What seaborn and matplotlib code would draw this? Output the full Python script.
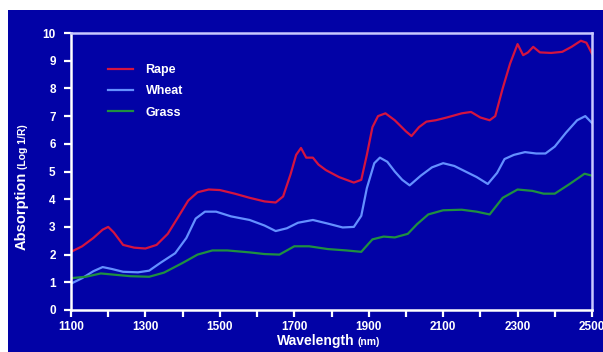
import matplotlib
matplotlib.use("Agg")
import matplotlib.pyplot as plt
import seaborn as sns
import pandas as pd
from matplotlib.patches import Rectangle

# ---- data ----
series_names = ["Rape", "Wheat", "Grass"]

rape_wl = [1100, 1130, 1160, 1185, 1200, 1215, 1240, 1270, 1300, 1330, 1360, 1390,
           1415, 1440, 1470, 1500, 1540, 1580, 1620, 1650, 1670, 1690, 1705, 1718,
           1732, 1750, 1765, 1785, 1820, 1860, 1880, 1895, 1910, 1925, 1945, 1970,
           2000, 2015, 2035, 2055, 2080, 2110, 2150, 2175, 2200, 2225, 2240, 2260,
           2280, 2300, 2315, 2328, 2342, 2360, 2390, 2420, 2445, 2470, 2485, 2500]
rape_abs = [2.1, 2.3, 2.6, 2.9, 3.0, 2.8, 2.35, 2.25, 2.22, 2.35, 2.75, 3.4,
            3.95, 4.25, 4.35, 4.33, 4.2, 4.05, 3.92, 3.88, 4.1, 4.9, 5.6, 5.85,
            5.5, 5.5, 5.25, 5.05, 4.8, 4.6, 4.7, 5.6, 6.6, 7.0, 7.1, 6.85,
            6.45, 6.28, 6.6, 6.8, 6.85, 6.95, 7.1, 7.15, 6.95, 6.85, 7.0, 8.0,
            8.9, 9.6, 9.2, 9.3, 9.5, 9.3, 9.28, 9.32, 9.5, 9.72, 9.65, 9.25]

wheat_wl = [1100, 1130, 1160, 1185, 1210, 1240, 1280, 1310, 1340, 1380, 1410, 1435,
            1460, 1490, 1530, 1580, 1620, 1650, 1680, 1710, 1750, 1790, 1830, 1860,
            1880, 1895, 1915, 1930, 1950, 1970, 1990, 2010, 2040, 2070, 2100, 2130,
            2160, 2190, 2220, 2245, 2265, 2290, 2320, 2350, 2375, 2400, 2430, 2460,
            2482, 2500]
wheat_abs = [0.95, 1.15, 1.4, 1.55, 1.48, 1.38, 1.36, 1.42, 1.7, 2.05, 2.6, 3.3,
             3.55, 3.55, 3.38, 3.25, 3.05, 2.85, 2.95, 3.15, 3.25, 3.12, 2.98, 3.0,
             3.4, 4.4, 5.3, 5.5, 5.35, 5.0, 4.7, 4.5, 4.85, 5.15, 5.3, 5.2,
             5.0, 4.8, 4.55, 4.95, 5.45, 5.6, 5.7, 5.65, 5.65, 5.9, 6.4, 6.85,
             7.0, 6.75]

grass_wl = [1100, 1140, 1180, 1220, 1260, 1310, 1350, 1400, 1440, 1480, 1520, 1580,
            1620, 1660, 1700, 1740, 1790, 1840, 1880, 1910, 1940, 1970, 2005, 2030,
            2060, 2100, 2150, 2190, 2225, 2260, 2300, 2340, 2370, 2400, 2440, 2480,
            2500]
grass_abs = [1.15, 1.2, 1.32, 1.27, 1.22, 1.2, 1.35, 1.7, 2.0, 2.15, 2.15, 2.08,
             2.02, 2.0, 2.3, 2.3, 2.2, 2.15, 2.1, 2.55, 2.65, 2.62, 2.75, 3.1,
             3.45, 3.6, 3.62, 3.55, 3.45, 4.05, 4.35, 4.3, 4.2, 4.2, 4.55, 4.92,
             4.85]

x_major = [1100, 1300, 1500, 1700, 1900, 2100, 2300, 2500]
x_minor = [1200, 1400, 1600, 1800, 2000, 2200, 2400]
y_ticks = list(range(0, 11))

# ---- style ----
BG = "#0202a6"
colors = {"Rape": "#d41440", "Wheat": "#6490ff", "Grass": "#1f9040"}
plt.rcParams["font.family"] = ["Liberation Sans", "DejaVu Sans"]

frames = []
for name, wl, ab in zip(series_names, [rape_wl, wheat_wl, grass_wl],
                        [rape_abs, wheat_abs, grass_abs]):
    frames.append(pd.DataFrame({"Wavelength": wl, "Absorption": ab, "Crop": name}))
df = pd.concat(frames, ignore_index=True)

fig = plt.figure(figsize=(6.03, 3.52), dpi=100, facecolor=BG)
# white strips at top and left as in the reference
fig.patches.append(Rectangle((0, 1 - 10 / 352), 1, 10 / 352,
                             transform=fig.transFigure, facecolor="white",
                             edgecolor="none", zorder=-1))
fig.patches.append(Rectangle((0, 0), 8 / 603, 1,
                             transform=fig.transFigure, facecolor="white",
                             edgecolor="none", zorder=-1))

ax = fig.add_axes([71 / 603, (352 - 310) / 352, 521 / 603, 277 / 352])
ax.set_facecolor(BG)

sns.lineplot(data=df, x="Wavelength", y="Absorption", hue="Crop",
             hue_order=series_names, palette=colors, linewidth=1.6,
             estimator=None, ax=ax)

ax.set_xlim(1100, 2500)
ax.set_ylim(0, 10)
ax.set_xticks(x_major)
ax.set_xticks(x_minor, minor=True)
ax.set_yticks(y_ticks)

for side in ["left", "bottom"]:
    ax.spines[side].set_color("white")
    ax.spines[side].set_linewidth(1.8)
for side in ["top", "right"]:
    ax.spines[side].set_color("#c8c8ff")
    ax.spines[side].set_linewidth(1.8)

ax.tick_params(axis="both", which="both", colors="white", length=5, width=1.6,
               direction="out")
ax.tick_params(axis="x", which="major", pad=3)
ax.tick_params(axis="y", which="major", pad=6)
for lab in ax.get_xticklabels() + ax.get_yticklabels():
    lab.set_fontweight("bold")
    lab.set_fontsize(8.5)
    lab.set_color("white")

ax.set_xlabel("")
ax.set_ylabel("")

# axis titles with smaller unit part
fig.text(355 / 603, 1 - 341 / 352, "Wavelength", color="white", fontsize=10,
         fontweight="bold", ha="right", va="center")
fig.text(358 / 603, 1 - 342 / 352, "(nm)", color="white", fontsize=7.5,
         fontweight="bold", ha="left", va="center")
fig.text(22 / 603, 1 - 172 / 352, "Absorption", color="white", fontsize=10.5,
         fontweight="bold", ha="center", va="top", rotation=90)
fig.text(23 / 603, 1 - 169 / 352, "(Log 1/R)", color="white", fontsize=7.5,
         fontweight="bold", ha="center", va="bottom", rotation=90)

leg = ax.legend(loc="upper left", bbox_to_anchor=((108 - 71) / 521, (310 - 64) / 277),
                frameon=False, borderaxespad=0, borderpad=0, handlelength=2.0,
                handletextpad=1.0, labelspacing=0.75,
                prop={"weight": "bold", "size": 9})
for t in leg.get_texts():
    t.set_color("white")
for h in leg.get_lines():
    h.set_linewidth(1.6)

fig.savefig("out.png", dpi=100, facecolor=fig.get_facecolor())
